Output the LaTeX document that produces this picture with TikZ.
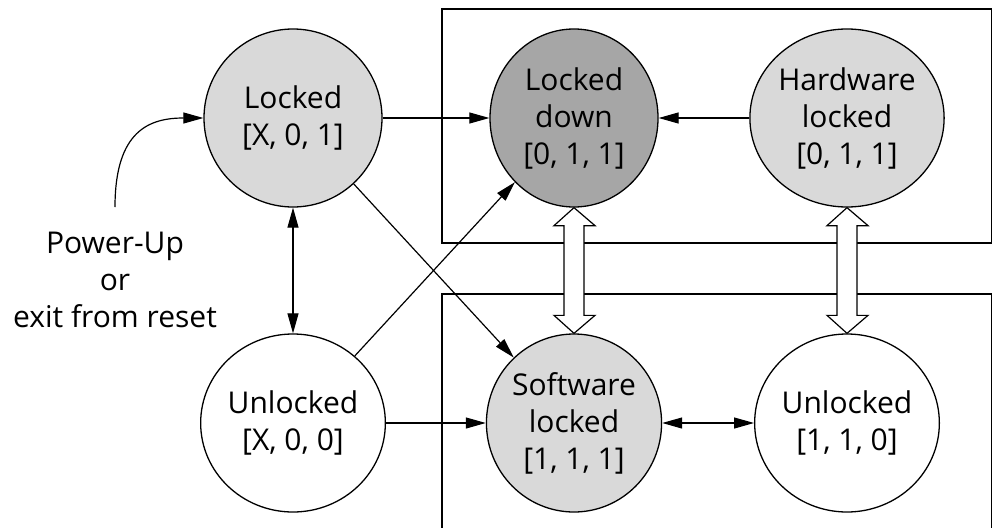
\documentclass[tikz,border=0pt]{standalone}
\usepackage{fontspec}
\setmainfont{Open Sans}
\usetikzlibrary{arrows.meta,shapes.geometric,calc}
\definecolor{lightfill}{HTML}{D9D9D9}
\definecolor{darkfill}{HTML}{A6A6A6}
\begin{document}
\begin{tikzpicture}[x=1pt,y=-1pt,
  lbl/.style={align=center,font=\fontsize{30}{37}\selectfont},
  state/.style={ellipse,draw,line width=1.3pt,inner sep=0pt,lbl,
    minimum width=168pt,minimum height=178pt},
  bigstate/.style={state,minimum width=178pt},
  region/.style={draw,line width=1.4pt},
  conn/.style={line width=1.2pt,-{Triangle[length=20pt,width=11pt]}},
  biconn/.style={line width=1.2pt,{Triangle[length=20pt,width=11pt]}-{Triangle[length=20pt,width=11pt]}},
  hollow/.style={draw,fill=white,line width=1.2pt,line join=miter}
]
\useasboundingbox (0,0) rectangle (992,527);
\clip (0,0) rectangle (992,527);
\fill[white] (0,0) rectangle (992,527);

% regions
\draw[region] (442,9) rectangle (992,243);
\draw[region] (442,294) rectangle (992,540);

% states
\node[bigstate,fill=lightfill] (lk) at (293,118) {Locked\\{}[X, 0, 1]};
\node[bigstate,fill=white] (ul) at (293,423) {Unlocked\\{}[X, 0, 0]};
\node[state,fill=darkfill] (ld) at (574,118) {Locked\\down\\{}[0, 1, 1]};
\node[state,fill=lightfill] (hw) at (847,118) {Hardware\\locked\\{}[0, 1, 1]};
\node[state,fill=lightfill] (sw) at (574,423) {Software\\locked\\{}[1, 1, 1]};
\node[state,fill=white] (u2) at (847,423) {Unlocked\\{}[1, 1, 0]};

% power-up label and entry arrow
\node[lbl] (pu) at (115,280) {Power-Up\\or\\exit from reset};
\coordinate (pustart) at (115,207);
\draw[conn] (pustart) .. controls (115,130) and (150,118) .. (lk.west);

% connectors
\draw[biconn] (lk.south) -- (ul.north);
\draw[conn] (lk.east) -- (ld.west);
\draw[conn] (hw.west) -- (ld.east);
\draw[conn] (lk) -- (sw);
\draw[conn] (ul) -- (ld);
\draw[conn] (ul.east) -- (sw.west);
\draw[biconn] (sw.east) -- (u2.west);

% hollow double arrows
\foreach \a/\b in {ld/sw,hw/u2}{
  \draw[hollow] ($(\a.south)+(-10,18)$) -- ($(\a.south)+(-20,18)$) -- (\a.south)
    -- ($(\a.south)+(21,18)$) -- ($(\a.south)+(10,18)$)
    -- ($(\b.north)+(10,-18)$) -- ($(\b.north)+(21,-18)$) -- (\b.north)
    -- ($(\b.north)+(-20,-18)$) -- ($(\b.north)+(-10,-18)$) -- cycle;
}
\end{tikzpicture}
\end{document}
